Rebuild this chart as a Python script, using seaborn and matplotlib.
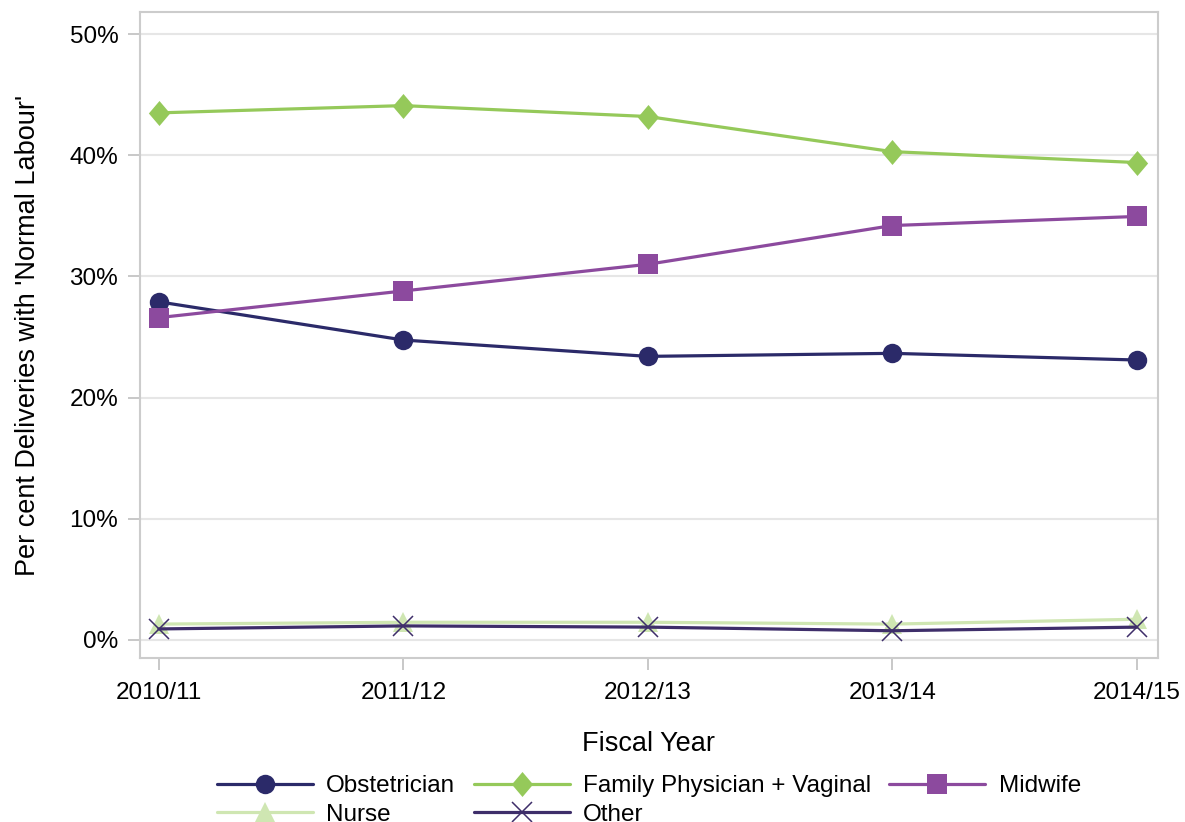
import pandas as pd
import matplotlib
matplotlib.use("Agg")
import matplotlib.pyplot as plt
import seaborn as sns
from matplotlib.ticker import FuncFormatter

years = ["2010/11", "2011/12", "2012/13", "2013/14", "2014/15"]
obstetrician = [27.9, 24.75, 23.4, 23.65, 23.1]
family_physician = [43.5, 44.1, 43.2, 40.3, 39.4]
midwife = [26.6, 28.8, 31.0, 34.2, 34.95]
nurse = [1.3, 1.45, 1.45, 1.3, 1.7]
other = [0.9, 1.15, 1.05, 0.75, 1.05]

series = {
    "Obstetrician": obstetrician,
    "Family Physician + Vaginal": family_physician,
    "Midwife": midwife,
    "Nurse": nurse,
    "Other": other,
}
colors = {
    "Obstetrician": "#2b2a69",
    "Family Physician + Vaginal": "#95c95a",
    "Midwife": "#8c4a9e",
    "Nurse": "#cfe6b2",
    "Other": "#3e2e6a",
}
diamond = [(-0.85, 0), (0, 1), (0.85, 0), (0, -1)]
markers = {
    "Obstetrician": ("o", 14),
    "Family Physician + Vaginal": (diamond, 18),
    "Midwife": ("s", 14),
    "Nurse": ("^", 14),
    "Other": ("x", 15),
}


def build_frame():
    rows = []
    for name, vals in series.items():
        for i, (yr, v) in enumerate(zip(years, vals)):
            rows.append({"year": yr, "pos": i, "provider": name, "pct": v})
    return pd.DataFrame(rows)


def main():
    sns.set_style("white")
    plt.rcParams["font.family"] = ["Liberation Sans", "DejaVu Sans"]
    plt.rcParams["text.color"] = "black"
    df = build_frame()

    fig, ax = plt.subplots(figsize=(11.85, 8.22), dpi=100)
    fig.subplots_adjust(left=0.118, right=0.977, top=0.985, bottom=0.1995)

    for name in series:
        sub = df[df["provider"] == name]
        m, ms = markers[name]
        sns.lineplot(data=sub, x="pos", y="pct", ax=ax, color=colors[name],
                     linewidth=2.3, marker=m, markersize=ms,
                     markeredgecolor=colors[name],
                     markeredgewidth=1.1 if m == "x" else 0,
                     label=name, legend=False)

    ax.set_xlim(-0.078, 4.086)
    ax.set_ylim(-1.5, 51.8)
    ax.set_xticks(range(len(years)))
    ax.set_xticklabels(years)
    ax.set_yticks([0, 10, 20, 30, 40, 50])
    ax.yaxis.set_major_formatter(FuncFormatter(lambda v, p: f"{v:.0f}%"))
    ax.grid(axis="y", color="#e6e6e6", linewidth=1.5)
    ax.set_axisbelow(True)
    for s in ax.spines.values():
        s.set_color("#cccccc")
        s.set_linewidth(1.5)
    ax.tick_params(axis="both", which="both", length=8.5, width=1.3,
                   color="#c4c4c4", labelsize=17.5, labelcolor="black",
                   direction="out", left=True, bottom=True)
    ax.tick_params(axis="x", pad=9)
    ax.tick_params(axis="y", pad=7)
    ax.set_xlabel("Fiscal Year", fontsize=19.5, color="black")
    ax.set_ylabel("Per cent Deliveries with 'Normal Labour'", fontsize=19.5,
                  color="black")
    ax.xaxis.set_label_coords(0.5, -0.113)
    ax.yaxis.set_label_coords(-0.097, 0.5)

    handles, labels = ax.get_legend_handles_labels()
    # row-major order for a 3-column legend (matplotlib fills by column)
    order = [0, 3, 1, 4, 2]
    fig.legend([handles[i] for i in order], [labels[i] for i in order],
               loc="upper left", ncol=3, bbox_to_anchor=(0.183, 0.057),
               frameon=False, fontsize=17.5, handlelength=3.95,
               columnspacing=0.75, handletextpad=0.55, labelspacing=0.28,
               borderpad=0, borderaxespad=0)

    fig.savefig("out.png", dpi=100)


if __name__ == "__main__":
    main()
